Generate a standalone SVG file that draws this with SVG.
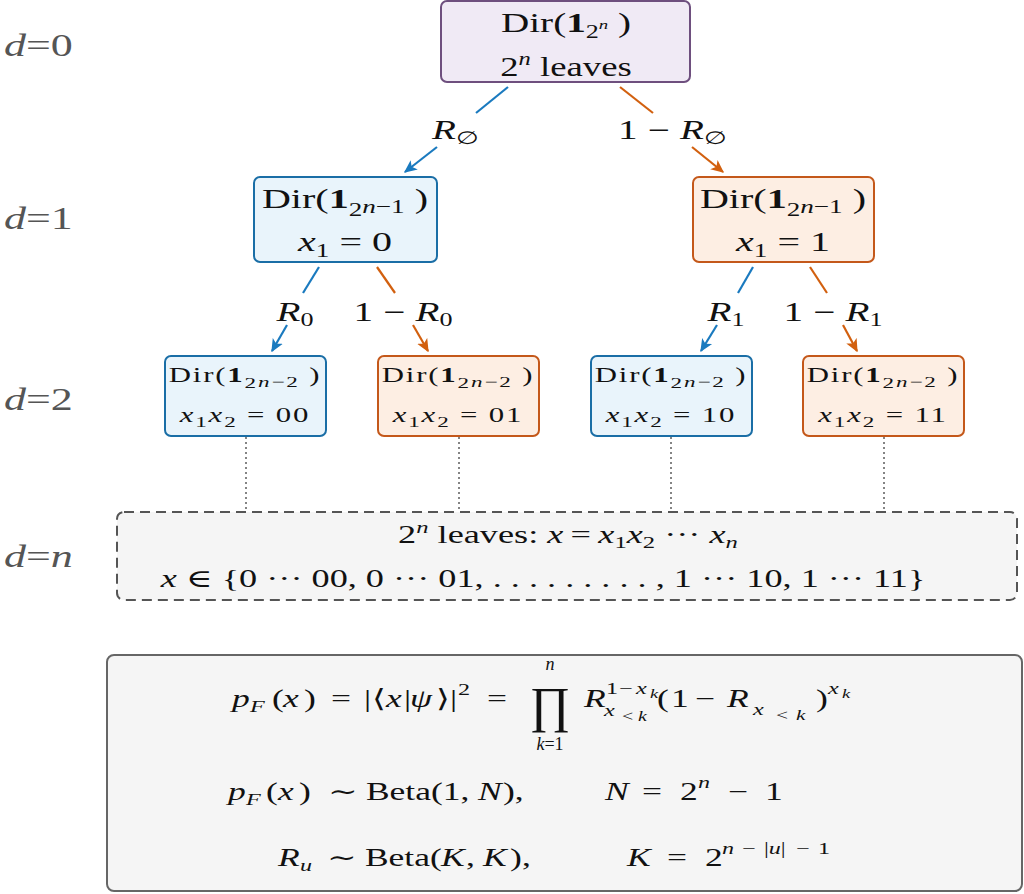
<svg xmlns="http://www.w3.org/2000/svg" width="1024" height="894" viewBox="0 0 1024 894">
<defs>
<style>
.rm{font-family:"Liberation Serif","DejaVu Serif",serif;fill:#111}
.it{font-style:italic}
.bf{font-weight:bold}
.dl{font-family:"Liberation Serif","DejaVu Serif",serif;fill:#555;font-size:31px}
.box{stroke-width:2}
.purple{fill:#f0eaf5;stroke:#6e4f7e}
.blue{fill:#e9f4fb;stroke:#1a6ea6}
.orange{fill:#fdeee3;stroke:#c4581a}
.ab{stroke:#1a7abf;stroke-width:2.2;fill:none}
.ao{stroke:#d2600f;stroke-width:2.2;fill:none}
.dot{stroke:#666;stroke-width:1.6;stroke-dasharray:2 3;fill:none}
</style>
<marker id="mb" viewBox="0 0 10 10" refX="9" refY="5" markerWidth="13" markerHeight="13" orient="auto" markerUnits="userSpaceOnUse">
<path d="M0,0.5 L10,5 L0,9.5 L2.5,5 Z" fill="#1a7abf"/>
</marker>
<marker id="mo" viewBox="0 0 10 10" refX="9" refY="5" markerWidth="13" markerHeight="13" orient="auto" markerUnits="userSpaceOnUse">
<path d="M0,0.5 L10,5 L0,9.5 L2.5,5 Z" fill="#d2600f"/>
</marker>
</defs>
<rect width="1024" height="894" fill="#fff"/>

<g id="depth-labels">
<text class="dl" transform="translate(4,56) scale(1.42,1)"><tspan class="it">d</tspan>=0</text>
<text class="dl" transform="translate(4,229) scale(1.42,1)"><tspan class="it">d</tspan>=1</text>
<text class="dl" transform="translate(4,410) scale(1.42,1)"><tspan class="it">d</tspan>=2</text>
<text class="dl" transform="translate(4,567) scale(1.42,1)"><tspan class="it">d</tspan>=<tspan class="it">n</tspan></text>
</g>

<g id="connectors">
<line class="ab" x1="508" y1="87" x2="476" y2="113"/>
<line class="ab" x1="437" y1="147" x2="405" y2="172" marker-end="url(#mb)"/>
<line class="ao" x1="620" y1="87" x2="653" y2="113"/>
<line class="ao" x1="692" y1="147" x2="723" y2="172" marker-end="url(#mo)"/>
<line class="ab" x1="319" y1="267" x2="303" y2="293"/>
<line class="ab" x1="287" y1="325" x2="272" y2="351" marker-end="url(#mb)"/>
<line class="ao" x1="377" y1="267" x2="395" y2="293"/>
<line class="ao" x1="413" y1="325" x2="428" y2="351" marker-end="url(#mo)"/>
<line class="ab" x1="753" y1="267" x2="738" y2="293"/>
<line class="ab" x1="717" y1="325" x2="701" y2="351" marker-end="url(#mb)"/>
<line class="ao" x1="810" y1="267" x2="827" y2="293"/>
<line class="ao" x1="843" y1="325" x2="857" y2="351" marker-end="url(#mo)"/>
<line class="dot" x1="246" y1="437" x2="246" y2="511"/>
<line class="dot" x1="459" y1="437" x2="459" y2="511"/>
<line class="dot" x1="671" y1="437" x2="671" y2="511"/>
<line class="dot" x1="884" y1="437" x2="884" y2="511"/>
<g class="rm" font-size="27" text-anchor="middle">
<text transform="translate(455,139) scale(1.45,1)"><tspan class="it">R</tspan><tspan font-size="18" dy="5">∅</tspan></text>
<text transform="translate(672,139) scale(1.45,1)">1<tspan dx="7">−</tspan><tspan class="it" dx="7">R</tspan><tspan font-size="18" dy="5">∅</tspan></text>
<text transform="translate(295,321) scale(1.45,1)"><tspan class="it">R</tspan><tspan font-size="18" dy="5">0</tspan></text>
<text transform="translate(403,321) scale(1.45,1)">1<tspan dx="7">−</tspan><tspan class="it" dx="7">R</tspan><tspan font-size="18" dy="5">0</tspan></text>
<text transform="translate(726,321) scale(1.45,1)"><tspan class="it">R</tspan><tspan font-size="18" dy="5">1</tspan></text>
<text transform="translate(833,321) scale(1.45,1)">1<tspan dx="7">−</tspan><tspan class="it" dx="7">R</tspan><tspan font-size="18" dy="5">1</tspan></text>
</g>
</g>

<g id="root">
<rect class="box purple" x="441" y="1" width="249" height="81" rx="6"/>
<text class="rm" font-size="27" text-anchor="middle" transform="translate(566,32) scale(1.45,1)">Dir(<tspan class="bf">1</tspan><tspan font-size="18" dy="6">2</tspan><tspan class="it" font-size="13" dy="-9">n</tspan><tspan dy="3"> )</tspan></text>
<text class="rm" font-size="27" text-anchor="middle" transform="translate(566,76) scale(1.36,1)">2<tspan class="it" font-size="18" dy="-11">n</tspan><tspan dy="11">  leaves</tspan></text>
</g>

<g id="n-x1-0">
<rect class="box blue" x="254" y="177" width="183" height="85" rx="6"/>
<text class="rm" font-size="28" text-anchor="middle" transform="translate(345,208) scale(1.43,1)">Dir(<tspan class="bf">1</tspan><tspan font-size="19" dy="8">2</tspan><tspan class="it" font-size="19" dy="-3">n</tspan><tspan font-size="19">−1</tspan><tspan dy="-5"> )</tspan></text>
<text class="rm" font-size="28" text-anchor="middle" transform="translate(345,251) scale(1.43,1)"><tspan class="it">x</tspan><tspan font-size="19" dy="6">1</tspan><tspan dy="-6"> = 0</tspan></text>
</g>

<g id="n-x1-1">
<rect class="box orange" x="693" y="177" width="181" height="85" rx="6"/>
<text class="rm" font-size="28" text-anchor="middle" transform="translate(783,208) scale(1.43,1)">Dir(<tspan class="bf">1</tspan><tspan font-size="19" dy="8">2</tspan><tspan class="it" font-size="19" dy="-3">n</tspan><tspan font-size="19">−1</tspan><tspan dy="-5"> )</tspan></text>
<text class="rm" font-size="28" text-anchor="middle" transform="translate(783,251) scale(1.43,1)"><tspan class="it">x</tspan><tspan font-size="19" dy="6">1</tspan><tspan dy="-6"> = 1</tspan></text>
</g>

<g id="n-00">
<rect class="box blue" x="165" y="356" width="161" height="80" rx="6"/>
<text class="rm" font-size="20" text-anchor="middle" letter-spacing="1.2" transform="translate(245,382) scale(1.54,1)">Dir(<tspan class="bf">1</tspan><tspan font-size="15" dy="6">2</tspan><tspan class="it" font-size="15" dy="-1">n</tspan><tspan font-size="15">−2</tspan><tspan dy="-5"> )</tspan></text>
<text class="rm" font-size="20" text-anchor="middle" letter-spacing="1.2" transform="translate(245,422) scale(1.54,1)"><tspan class="it">x</tspan><tspan font-size="15" dy="5">1</tspan><tspan class="it" dy="-5">x</tspan><tspan font-size="15" dy="5">2</tspan><tspan dy="-5"> = 00</tspan></text>
</g>

<g id="n-01">
<rect class="box orange" x="378" y="356" width="161" height="80" rx="6"/>
<text class="rm" font-size="20" text-anchor="middle" letter-spacing="1.2" transform="translate(458,382) scale(1.54,1)">Dir(<tspan class="bf">1</tspan><tspan font-size="15" dy="6">2</tspan><tspan class="it" font-size="15" dy="-1">n</tspan><tspan font-size="15">−2</tspan><tspan dy="-5"> )</tspan></text>
<text class="rm" font-size="20" text-anchor="middle" letter-spacing="1.2" transform="translate(458,422) scale(1.54,1)"><tspan class="it">x</tspan><tspan font-size="15" dy="5">1</tspan><tspan class="it" dy="-5">x</tspan><tspan font-size="15" dy="5">2</tspan><tspan dy="-5"> = 01</tspan></text>
</g>

<g id="n-10">
<rect class="box blue" x="591" y="356" width="161" height="80" rx="6"/>
<text class="rm" font-size="20" text-anchor="middle" letter-spacing="1.2" transform="translate(671,382) scale(1.54,1)">Dir(<tspan class="bf">1</tspan><tspan font-size="15" dy="6">2</tspan><tspan class="it" font-size="15" dy="-1">n</tspan><tspan font-size="15">−2</tspan><tspan dy="-5"> )</tspan></text>
<text class="rm" font-size="20" text-anchor="middle" letter-spacing="1.2" transform="translate(671,422) scale(1.54,1)"><tspan class="it">x</tspan><tspan font-size="15" dy="5">1</tspan><tspan class="it" dy="-5">x</tspan><tspan font-size="15" dy="5">2</tspan><tspan dy="-5"> = 10</tspan></text>
</g>

<g id="n-11">
<rect class="box orange" x="803" y="356" width="161" height="80" rx="6"/>
<text class="rm" font-size="20" text-anchor="middle" letter-spacing="1.2" transform="translate(883,382) scale(1.54,1)">Dir(<tspan class="bf">1</tspan><tspan font-size="15" dy="6">2</tspan><tspan class="it" font-size="15" dy="-1">n</tspan><tspan font-size="15">−2</tspan><tspan dy="-5"> )</tspan></text>
<text class="rm" font-size="20" text-anchor="middle" letter-spacing="1.2" transform="translate(883,422) scale(1.54,1)"><tspan class="it">x</tspan><tspan font-size="15" dy="5">1</tspan><tspan class="it" dy="-5">x</tspan><tspan font-size="15" dy="5">2</tspan><tspan dy="-5"> = 11</tspan></text>
</g>

<g id="leaves">
<rect x="117" y="512" width="900" height="88" rx="7" fill="#f5f5f5" stroke="#555" stroke-width="2" stroke-dasharray="10 6"/>
<text class="rm" font-size="25" text-anchor="middle" transform="translate(568,543) scale(1.45,1)">2<tspan class="it" font-size="17" dy="-10">n</tspan><tspan dy="10"> leaves: </tspan><tspan class="it">x</tspan><tspan dx="5">=</tspan><tspan class="it" dx="5">x</tspan><tspan font-size="17" dy="5">1</tspan><tspan class="it" dy="-5">x</tspan><tspan font-size="17" dy="5">2</tspan><tspan dy="-5"> ··· </tspan><tspan class="it">x</tspan><tspan class="it" font-size="17" dy="5">n</tspan></text>
<text class="rm" font-size="25" text-anchor="middle" transform="translate(543,587) scale(1.45,1)"><tspan class="it">x</tspan> ∈ {0 ··· 00, 0 ··· 01, . . . . . . . . . , 1 ··· 10, 1 ··· 11}</text>
</g>

<g id="formulas">
<rect x="107" y="655" width="915" height="236" rx="7" fill="#f5f5f5" stroke="#666" stroke-width="2"/>
<g class="rm" font-size="25">
<text transform="scale(1.42,1)" y="707"><tspan class="it" x="163.4">p</tspan><tspan class="it" font-size="17" x="176.1" y="712">F</tspan><tspan x="191.5" y="707">(</tspan><tspan class="it" x="199.3">x</tspan><tspan x="214.1">)</tspan><tspan x="233.1">=</tspan><tspan x="256.3">|</tspan><tspan x="262">⟨</tspan><tspan class="it" x="271.8">x</tspan><tspan x="284.5">|</tspan><tspan class="it" x="288.7">ψ</tspan><tspan x="307">⟩</tspan><tspan x="316.9">|</tspan><tspan font-size="17" x="322.5" y="695">2</tspan><tspan x="343" y="707">=</tspan></text>
<text x="550" y="722" font-size="50" text-anchor="middle">∏</text>
<text x="550" y="670" font-size="18" text-anchor="middle" class="it">n</text>
<text x="550" y="750" font-size="18" text-anchor="middle"><tspan class="it">k</tspan>=1</text>
<text transform="scale(1.42,1)" y="707"><tspan class="it" x="411.3">R</tspan><tspan font-size="17" x="426.8" y="694">1</tspan><tspan font-size="17" x="435.9">−</tspan><tspan class="it" font-size="17" x="447.9">x</tspan><tspan class="it" font-size="13" x="457.7" y="698">k</tspan><tspan class="it" font-size="17" x="425.4" y="716">x</tspan><tspan font-size="14" x="438" y="721">&lt;</tspan><tspan class="it" font-size="14" x="449.3">k</tspan><tspan x="462.7" y="707">(</tspan><tspan x="472.5">1</tspan><tspan x="489.4">−</tspan><tspan class="it" x="512">R</tspan><tspan class="it" font-size="17" x="530.3" y="715">x</tspan><tspan font-size="15" x="546.5" y="720">&lt;</tspan><tspan class="it" font-size="15" x="560.6">k</tspan><tspan x="574.6" y="707">)</tspan><tspan class="it" font-size="17" x="583.1" y="694">x</tspan><tspan class="it" font-size="13" x="593" y="698">k</tspan></text>
<text transform="scale(1.42,1)" y="800"><tspan class="it" x="160.6">p</tspan><tspan class="it" font-size="17" x="173.2" y="805">F</tspan><tspan x="187.3" y="800">(</tspan><tspan class="it" x="195.8">x</tspan><tspan x="210.6">)</tspan><tspan x="231">∼</tspan><tspan x="257.7">Beta(1,</tspan><tspan class="it" x="336.6">N</tspan><tspan x="354.2">),</tspan></text>
<text transform="scale(1.42,1)" y="800"><tspan class="it" x="426">N</tspan><tspan x="452.1">=</tspan><tspan x="478.9">2</tspan><tspan class="it" font-size="17" x="491.5" y="788">n</tspan><tspan x="512.7" y="800">−</tspan><tspan x="538.7">1</tspan></text>
<text transform="scale(1.42,1)" y="866"><tspan class="it" x="195.8">R</tspan><tspan class="it" font-size="17" x="211.3" y="871">u</tspan><tspan x="230.3" y="866">∼</tspan><tspan x="257">Beta(</tspan><tspan class="it" x="310.6">K</tspan><tspan x="328.2">,</tspan><tspan class="it" x="340.1">K</tspan><tspan x="359.2">),</tspan></text>
<text transform="scale(1.42,1)" y="866"><tspan class="it" x="441.5">K</tspan><tspan x="469.7">=</tspan><tspan x="496.5">2</tspan><tspan font-size="17" y="854"><tspan class="it" x="508.5">n</tspan><tspan x="522.5">−</tspan><tspan x="538">|</tspan><tspan class="it">u</tspan>|<tspan x="560.6">−</tspan><tspan x="576">1</tspan></tspan></text>
</g>
</g>
</svg>
